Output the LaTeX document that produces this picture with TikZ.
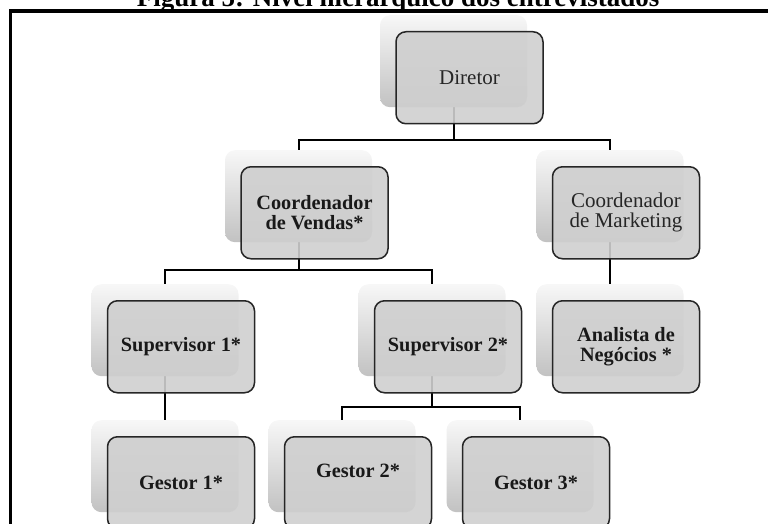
\documentclass[tikz,border=0pt]{standalone}
\usepackage{fontspec}
\setmainfont{Liberation Serif}
\usetikzlibrary{backgrounds}
\begin{document}
\begin{tikzpicture}[x=1pt,y=1pt,
  back/.style={rectangle, rounded corners=10pt, minimum width=147pt, minimum height=92pt, inner sep=0pt, top color=black!3, bottom color=black!24},
  front/.style={rectangle, rounded corners=10pt, minimum width=147pt, minimum height=92pt, inner sep=0pt, fill=black!19, fill opacity=0.9, draw=black!85, line width=1.5pt},
  lbl/.style={font=\fontsize{20.3}{19.5}\selectfont\bfseries, align=center, text=black!90},
  lblr/.style={font=\fontsize{21}{20}\selectfont, align=center, text=black!85},
  conn/.style={draw=black, line width=2pt},
  frame/.style={draw=black, line width=3.5pt}
]
\useasboundingbox (0,0) rectangle (768,-524);
\clip (0,0) rectangle (768,-524);

% title and frame
\node[font=\fontsize{27}{30}\selectfont\bfseries, anchor=base] (title) at (398,-7) {Figura 5: Nível hierárquico dos entrevistados};
\draw[frame] (10.5,-11) rectangle (800,-600);

% back (shadow) boxes
\node[back, anchor=north] (dirB) at (453.5,-15) {};
\node[back, anchor=north] (cvB) at (298.5,-150) {};
\node[back, anchor=north] (cmB) at (610,-150) {};
\node[back, anchor=north] (s1B) at (165,-284) {};
\node[back, anchor=north] (s2B) at (432,-284) {};
\node[back, anchor=north] (anB) at (610,-284) {};
\node[back, anchor=north] (g1B) at (165,-420) {};
\node[back, anchor=north] (g2B) at (342,-420) {};
\node[back, anchor=north] (g3B) at (520,-420) {};

% front boxes
\node[front, anchor=north] (dirF) at (469.5,-31) {};
\node[front, anchor=north] (cvF) at (314.5,-166) {};
\node[front, anchor=north] (cmF) at (626,-166) {};
\node[front, anchor=north] (s1F) at (181,-300) {};
\node[front, anchor=north] (s2F) at (448,-300) {};
\node[front, anchor=north] (anF) at (626,-300) {};
\node[front, anchor=north] (g1F) at (181,-436) {};
\node[front, anchor=north] (g2F) at (358,-436) {};
\node[front, anchor=north] (g3F) at (536,-436) {};

% labels
\node[lblr] (dirT) at (dirF.center) {Diretor};
\node[lbl] (cvT) at (cvF.center) {Coordenador\\de Vendas*};
\node[lblr] (cmT) at (cmF.center) {Coordenador\\de Marketing};
\node[lbl] (s1T) at (s1F.center) {Supervisor 1*};
\node[lbl] (s2T) at (s2F.center) {Supervisor 2*};
\node[lbl] (anT) at (anF.center) {Analista de\\Negócios *};
\node[lbl] (g1T) at (g1F.center) {Gestor 1*};
\node[lbl] (g2T) at ([yshift=12pt]g2F.center) {Gestor 2*};
\node[lbl] (g3T) at (g3F.center) {Gestor 3*};

% connectors (behind the boxes)
\begin{pgfonlayer}{background}
\draw[conn] (cvB.north) -- ++(0,10) -| (dirB.south);
\draw[conn] (cmB.north) -- ++(0,10) -| (dirB.south);
\draw[conn] (s1B.north) -- ++(0,14) -| (cvB.south);
\draw[conn] (s2B.north) -- ++(0,14) -| (cvB.south);
\draw[conn] (anB.north) -- (cmB.south);
\draw[conn] (g1B.north) -- (s1B.south);
\draw[conn] (g2B.north) -- ++(0,13) -| (s2B.south);
\draw[conn] (g3B.north) -- ++(0,13) -| (s2B.south);
\end{pgfonlayer}
\end{tikzpicture}
\end{document}
